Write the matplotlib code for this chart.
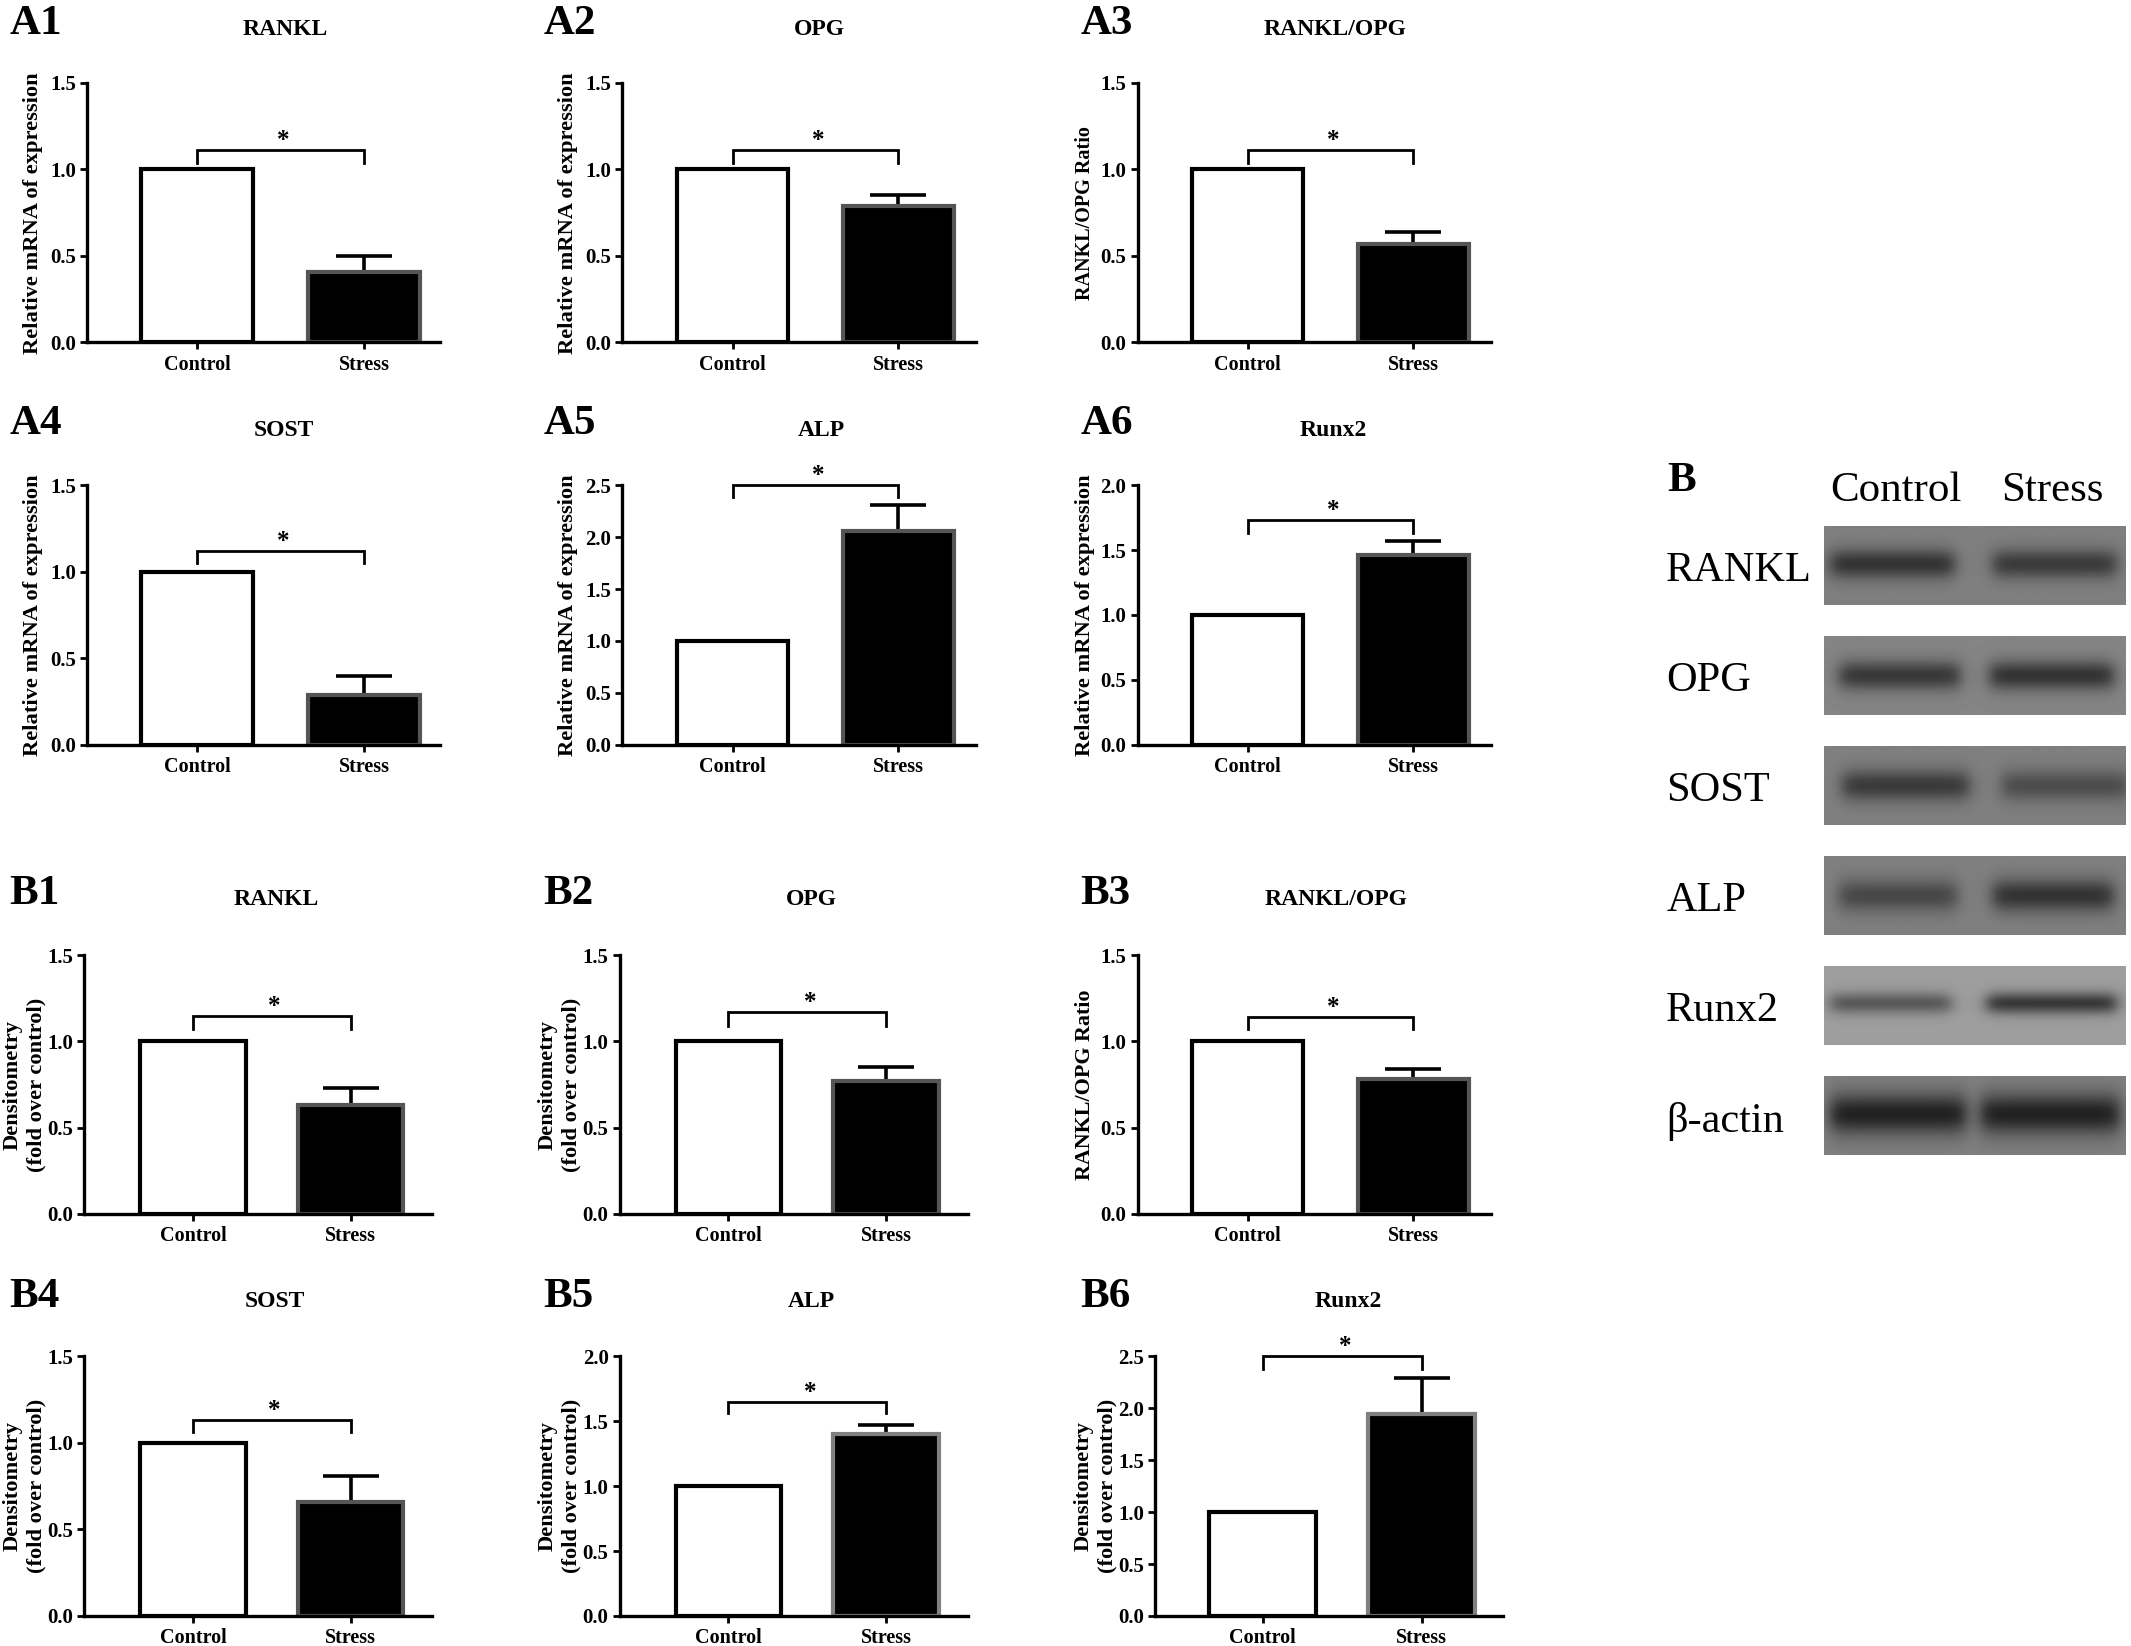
import numpy as np
import matplotlib
matplotlib.use("Agg")
import matplotlib.pyplot as plt

plt.rcParams["font.family"] = ["Liberation Serif", "DejaVu Serif"]

W, H = 2131, 1646
S = W / 1568  # layout numbers below were measured on a scaled down view

groups = ["Control", "Stress"]

# bar values: stress mean, top of error bar, bracket top, bracket foot
names = ["A1", "A2", "A3", "A4", "A5", "A6", "B1", "B2", "B3", "B4", "B5", "B6"]
titles = ["RANKL", "OPG", "RANKL/OPG", "SOST", "ALP", "Runx2",
          "RANKL", "OPG", "RANKL/OPG", "SOST", "ALP", "Runx2"]
control = [1.0] * 12
stress = [0.41, 0.79, 0.57, 0.29, 2.06, 1.46, 0.63, 0.77, 0.78, 0.66, 1.40, 1.94]
err_top = [0.50, 0.85, 0.64, 0.40, 2.31, 1.57, 0.73, 0.85, 0.84, 0.81, 1.47, 2.29]
br_top = [1.11, 1.11, 1.11, 1.12, 2.50, 1.73, 1.15, 1.17, 1.14, 1.13, 1.65, 2.50]
br_foot = [1.04, 1.04, 1.04, 1.05, 2.39, 1.63, 1.07, 1.09, 1.07, 1.06, 1.56, 2.38]
ymax = [1.5, 1.5, 1.5, 1.5, 2.5, 2.0, 1.5, 1.5, 1.5, 1.5, 2.0, 2.5]
ylabels = ["Relative mRNA of expression", "Relative mRNA of expression", "RANKL/OPG Ratio",
           "Relative mRNA of expression", "Relative mRNA of expression", "Relative mRNA of expression",
           "Densitometry\n(fold over control)", "Densitometry\n(fold over control)", "RANKL/OPG Ratio",
           "Densitometry\n(fold over control)", "Densitometry\n(fold over control)", "Densitometry\n(fold over control)"]

# axes layout
ax_left = [64, 458, 837, 64, 458, 837, 62, 456, 837, 62, 456, 850]
ax_right = [324, 718, 1097, 324, 718, 1097, 318, 712, 1097, 318, 712, 1106]
ax_top = [61, 61, 61, 357, 357, 357, 703, 703, 703, 998, 998, 998]
ax_bottom = [252, 252, 252, 548, 548, 548, 893, 893, 893, 1189, 1189, 1189]
tick0 = [145, 539, 918, 145, 539, 918, 142, 536, 918, 142, 536, 929]
tick1 = [268, 661, 1040, 268, 661, 1040, 258, 652, 1040, 258, 652, 1046]
title_x = [210, 603, 982, 209, 604, 981, 203, 597, 983, 202, 597, 992]
title_y = [22, 22, 22, 317, 317, 317, 662, 662, 662, 958, 958, 958]
letter_x = [7, 400, 795, 7, 400, 795, 7, 400, 795, 7, 400, 795]
letter_y = [18, 18, 18, 312, 312, 312, 658, 658, 658, 954, 954, 954]
ylabel_x = [24, 418, 798, 24, 418, 798, 18, 412, 798, 18, 412, 806]
ylabel_size = [16.2, 16.2, 14.5, 16.2, 16.2, 16.2, 16.2, 16.2, 15.8, 16.2, 16.2, 16.2]
edge_grey = ["#555555"] * 6 + ["#555555"] * 3 + ["#555555", "#808080", "#808080"]

# western blot panel
blot_names = ["RANKL", "OPG", "SOST", "ALP", "Runx2", "β-actin"]
blot_top = [387, 468, 549, 630, 711, 792]
blot_bg = [0.50, 0.52, 0.50, 0.50, 0.62, 0.50]
ctrl_start = [0.02, 0.05, 0.06, 0.05, 0.02, 0.02]
ctrl_end = [0.43, 0.45, 0.48, 0.44, 0.42, 0.47]
ctrl_dark = [0.20, 0.22, 0.23, 0.28, 0.35, 0.13]
stress_start = [0.56, 0.55, 0.59, 0.56, 0.54, 0.52]
stress_end = [0.97, 0.96, 1.01, 0.96, 0.97, 0.98]
stress_dark = [0.23, 0.20, 0.30, 0.20, 0.22, 0.13]
band_pos = [0.48, 0.50, 0.50, 0.50, 0.47, 0.48]
band_thick = [0.19, 0.19, 0.20, 0.21, 0.14, 0.26]

fig = plt.figure(figsize=(W / 100, H / 100), dpi=100, facecolor="white")


def put_text(x, y, s, **kw):
    fig.text(x * S / W, 1 - y * S / H, s, **kw)


for i in range(12):
    left = ax_left[i] * S / W
    bottom = 1 - ax_bottom[i] * S / H
    width = (ax_right[i] - ax_left[i]) * S / W
    height = (ax_bottom[i] - ax_top[i]) * S / H
    ax = fig.add_axes([left, bottom, width, height], facecolor="none")

    # category 0 and 1 sit on the measured tick positions
    step = tick1[i] - tick0[i]
    ax.set_xlim((ax_left[i] - tick0[i]) / step, (ax_right[i] - tick0[i]) / step)
    ax.set_ylim(0, ymax[i])

    ax.bar(0, control[i], width=0.67, color="white", edgecolor="black", linewidth=3.0, zorder=2)
    ax.bar(1, stress[i], width=0.67, color="black", edgecolor=edge_grey[i], linewidth=3.0, zorder=2)
    ax.errorbar(1, stress[i], yerr=[[0], [err_top[i] - stress[i]]], color="black",
                elinewidth=2.6, capsize=20, capthick=2.6, zorder=1)

    ax.plot([0, 0, 1, 1], [br_foot[i], br_top[i], br_top[i], br_foot[i]],
            color="black", lw=2.0, clip_on=False, solid_joinstyle="miter")
    ax.annotate("*", (0.5, br_top[i]), xytext=(2, -1.5), textcoords="offset points",
                ha="center", va="bottom", fontsize=18, fontweight="bold", annotation_clip=False)

    ax.spines["top"].set_visible(False)
    ax.spines["right"].set_visible(False)
    ax.spines["left"].set_linewidth(2.4)
    ax.spines["bottom"].set_linewidth(2.4)
    ax.set_xticks([0, 1])
    ax.set_xticklabels(groups, fontsize=14.5, fontweight="bold")
    ax.set_yticks(np.arange(0, ymax[i] + 0.01, 0.5))
    ax.set_yticklabels(["%.1f" % v for v in np.arange(0, ymax[i] + 0.01, 0.5)], fontsize=15, fontweight="bold")
    ax.tick_params(axis="both", width=2, length=5, pad=3)
    ax.tick_params(axis="x", pad=4)

    put_text(ylabel_x[i], (ax_top[i] + ax_bottom[i]) / 2, ylabels[i], rotation=90, ha="center", va="center",
             fontsize=ylabel_size[i], fontweight="bold", linespacing=1.25, multialignment="center")
    put_text(title_x[i], title_y[i], titles[i], ha="center", va="center", fontsize=17, fontweight="bold")
    put_text(letter_x[i], letter_y[i], names[i], ha="left", va="center", fontsize=31, fontweight="bold")

# blots
blot_left, blot_right, blot_h = 1342, 1564, 58
xx, yy = np.meshgrid(np.linspace(0, 1, 300), np.linspace(0, 1, 80))


def band(start, end, pos, thick):
    soft = 0.03
    across = 0.5 * (np.tanh((xx - start) / soft) - np.tanh((xx - end) / soft))
    return across * np.exp(-((yy - pos) / thick) ** 2)


for i in range(6):
    ax = fig.add_axes([blot_left * S / W, 1 - (blot_top[i] + blot_h) * S / H,
                       (blot_right - blot_left) * S / W, blot_h * S / H])
    img = blot_bg[i] + (ctrl_dark[i] - blot_bg[i]) * band(ctrl_start[i], ctrl_end[i], band_pos[i], band_thick[i])
    img = img + (stress_dark[i] - blot_bg[i]) * band(stress_start[i], stress_end[i], band_pos[i], band_thick[i])
    ax.imshow(img, cmap="gray", vmin=0, vmax=1, aspect="auto")
    ax.axis("off")
    put_text(1226, blot_top[i] + 33, blot_names[i], ha="left", va="center", fontsize=30.5)

put_text(1227, 354, "B", ha="left", va="center", fontsize=31, fontweight="bold")
put_text(1395, 361, groups[0], ha="center", va="center", fontsize=31)
put_text(1510, 361, groups[1], ha="center", va="center", fontsize=31)

fig.savefig("out.png", dpi=100)
